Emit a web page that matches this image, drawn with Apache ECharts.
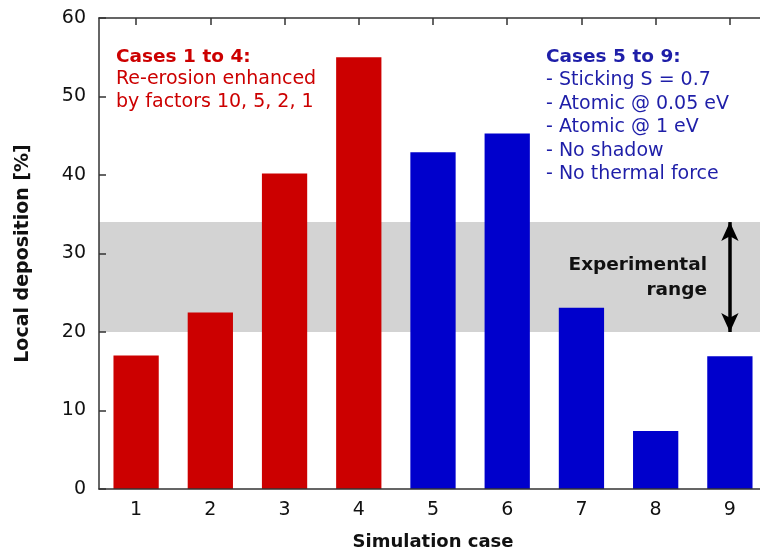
<!DOCTYPE html>
<html>
<head>
<meta charset="utf-8">
<script src="https://cdn.jsdelivr.net/npm/echarts@6/dist/echarts.min.js"></script>
<style>
  html, body { margin: 0; padding: 0; background: #fff; }
  #chart { width: 760px; height: 555px; }
</style>
</head>
<body>
<div id="chart"></div>
<script>
// Simulation cases and the local deposition each one yields (%)
const cases = ['1', '2', '3', '4', '5', '6', '7', '8', '9'];
const deposition = [17.0, 22.5, 40.2, 55.0, 42.9, 45.3, 23.1, 7.4, 16.9];
// Cases 1-4 form the re-erosion group, 5-9 the physics-variant group
const groupA = ['1', '2', '3', '4'];

// Measured range of local deposition (%)
const experimentalRange = [20, 34];

// Y axis scale
const yMin = 0, yMax = 60, yStep = 10;

// Annotation texts
const groupATitle = 'Cases 1 to 4:';
const groupALines = ['Re-erosion enhanced', 'by factors 10, 5, 2, 1'];
const groupBTitle = 'Cases 5 to 9:';
const groupBLines = ['- Sticking S = 0.7', '- Atomic @ 0.05 eV', '- Atomic @ 1 eV', '- No shadow', '- No thermal force'];
const rangeLabel = ['Experimental', 'range'];

const RED = '#cc0000';
const BLUE = '#0000cc';
const NAVY = '#1e1ea8';
const FONT = 'DejaVu Sans';

const chart = echarts.init(document.getElementById('chart'), null, { renderer: 'canvas' });

const option = {
  animation: false,
  backgroundColor: '#fff',
  textStyle: { fontFamily: FONT },
  grid: { left: 99, top: 18, width: 668, height: 471, containLabel: false, outerBoundsMode: 'none' },
  xAxis: [
    {
      type: 'category',
      data: cases,
      position: 'bottom',
      name: 'Simulation case',
      nameLocation: 'middle',
      nameGap: 44,
      nameTextStyle: { fontFamily: FONT, fontWeight: 'bold', fontSize: 18, color: '#111' },
      axisLine: { show: true, lineStyle: { color: '#333', width: 1.5 } },
      axisTick: { show: false },
      axisLabel: { fontFamily: FONT, fontSize: 19, color: '#111', margin: 12 },
      splitLine: { show: false },
      z: 10
    },
    {
      type: 'category',
      data: cases,
      position: 'top',
      axisLine: { show: true, lineStyle: { color: '#333', width: 1.5 } },
      axisTick: { show: true, inside: true, alignWithLabel: true, length: 7, lineStyle: { color: '#333', width: 1.5 } },
      axisLabel: { show: false },
      splitLine: { show: false },
      z: 10
    }
  ],
  yAxis: {
    type: 'value',
    min: yMin,
    max: yMax,
    interval: yStep,
    name: 'Local deposition [%]',
    nameLocation: 'middle',
    nameGap: 66,
    nameRotate: 90,
    nameTextStyle: { fontFamily: FONT, fontWeight: 'bold', fontSize: 19, color: '#111' },
    axisLine: { show: true, lineStyle: { color: '#333', width: 1.5 } },
    axisTick: { show: true, inside: true, length: 7, lineStyle: { color: '#333', width: 1.5 } },
    axisLabel: { fontFamily: FONT, fontSize: 19, color: '#111', margin: 13 },
    splitLine: { show: false },
    z: 10
  },
  series: [
    {
      // shaded experimental band with its double-headed arrow
      name: 'Experimental range',
      type: 'line',
      data: [],
      z: 1,
      silent: true,
      markArea: {
        silent: true,
        itemStyle: { color: '#d3d3d3' },
        data: [[{ yAxis: experimentalRange[1] }, { yAxis: experimentalRange[0] }]]
      },
      markLine: {
        silent: true,
        symbol: ['arrow', 'arrow'],
        symbolSize: [13, 19],
        label: { show: false },
        lineStyle: { color: '#000', width: 3.5, type: 'solid' },
        data: [[
          { coord: [cases[cases.length - 1], experimentalRange[1]] },
          { coord: [cases[cases.length - 1], experimentalRange[0]] }
        ]]
      }
    },
    {
      name: 'Local deposition',
      type: 'bar',
      z: 3,
      barWidth: '61%',
      data: deposition.map((v, i) => ({
        value: v,
        itemStyle: { color: groupA.includes(cases[i]) ? RED : BLUE }
      }))
    }
  ],
  graphic: [
    {
      type: 'text',
      x: 116,
      y: 45.5,
      z: 20,
      style: {
        text: '{h|' + groupATitle + '}\n' + groupALines.join('\n'),
        fill: RED,
        font: '19px "' + FONT + '"',
        lineHeight: 22.5,
        rich: { h: { fontFamily: FONT, fontWeight: 'bold', fontSize: 18.5, fill: RED, lineHeight: 22.5 } }
      }
    },
    {
      type: 'text',
      x: 546,
      y: 45.3,
      z: 20,
      style: {
        text: '{h|' + groupBTitle + '}\n' + groupBLines.join('\n'),
        fill: NAVY,
        font: '19px "' + FONT + '"',
        lineHeight: 23.4,
        rich: { h: { fontFamily: FONT, fontWeight: 'bold', fontSize: 18.5, fill: NAVY, lineHeight: 23.4 } }
      }
    },
    {
      type: 'text',
      x: 707,
      y: 253,
      z: 20,
      style: {
        text: rangeLabel.join('\n'),
        fill: '#111',
        align: 'right',
        verticalAlign: 'top',
        font: 'bold 18.5px "' + FONT + '"',
        lineHeight: 24.5
      }
    }
  ]
};

chart.setOption(option);
</script>
</body>
</html>
